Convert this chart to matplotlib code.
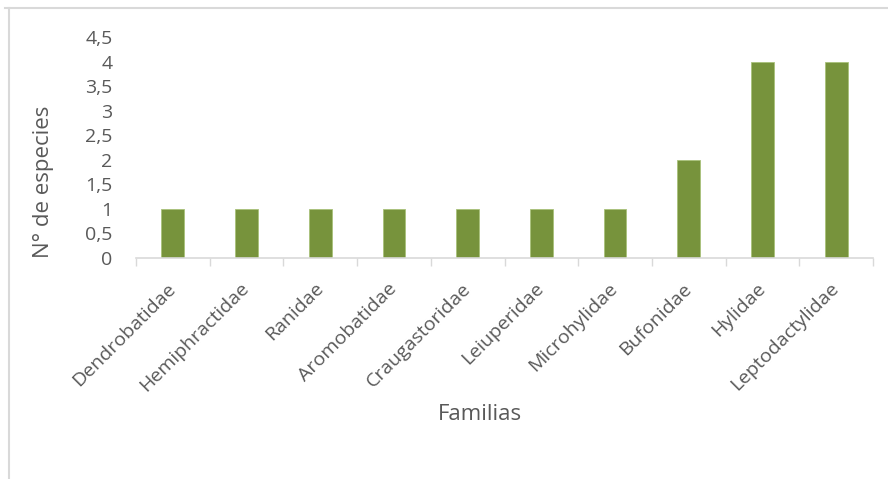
import matplotlib
matplotlib.use("Agg")
import matplotlib.pyplot as plt
import numpy as np
from matplotlib.lines import Line2D

familias = ["Dendrobatidae", "Hemiphractidae", "Ranidae", "Aromobatidae",
            "Craugastoridae", "Leiuperidae", "Microhylidae", "Bufonidae",
            "Hylidae", "Leptodactylidae"]
especies = [1, 1, 1, 1, 1, 1, 1, 2, 4, 4]
yticks = [0, 0.5, 1, 1.5, 2, 2.5, 3, 3.5, 4, 4.5]
ytick_labels = ["0", "0,5", "1", "1,5", "2", "2,5", "3", "3,5", "4", "4,5"]

plt.rcParams['font.family'] = ['Open Sans', 'DejaVu Sans']
gray = '#595959'

fig = plt.figure(figsize=(8.88, 4.79), dpi=100)
ax = fig.add_axes([136 / 888, 1 - 258 / 479, 737 / 888, 221 / 479])

x = np.arange(len(familias))
ax.bar(x, especies, width=0.31, color='#77933C', edgecolor='#A9C17A', linewidth=0.6)

ax.set_xlim(-0.5, len(familias) - 0.5)
ax.set_ylim(0, 4.5)
ax.set_yticks(yticks)
ax.set_yticklabels(ytick_labels, color=gray, fontsize=14)
ax.tick_params(axis='y', length=0, pad=17)

ax.set_xticks(x)
ax.set_xticklabels(familias, rotation=45, ha='right', va='center',
                   rotation_mode='anchor', color=gray, fontsize=14)
ax.tick_params(axis='x', which='major', length=0, pad=20)
ax.set_xticks(np.arange(len(familias) + 1) - 0.5, minor=True)
ax.tick_params(axis='x', which='minor', length=6, color='#D9D9D9', width=1)

for s in ['top', 'right', 'left']:
    ax.spines[s].set_visible(False)
ax.spines['bottom'].set_color('#D9D9D9')
ax.spines['bottom'].set_linewidth(1.2)

ax.set_ylabel("N° de especies", color=gray, fontsize=16, va='center')
ax.yaxis.set_label_coords((44 - 136) / 737, (258 - 182) / 221)
fig.text(480 / 888, 1 - 415 / 479, "Familias", color=gray, fontsize=16,
         ha='center', va='center')

# chart area border (partially visible)
fig.add_artist(Line2D([5 / 888, 1], [1 - 8 / 479, 1 - 8 / 479],
                      transform=fig.transFigure, color='#D9D9D9', lw=1.5))
fig.add_artist(Line2D([8.5 / 888, 8.5 / 888], [0, 1 - 8 / 479],
                      transform=fig.transFigure, color='#D9D9D9', lw=1.5))

fig.savefig("out.png", dpi=100)
